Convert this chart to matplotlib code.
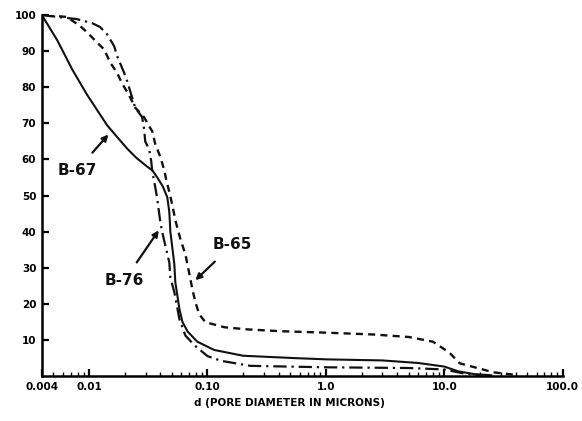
import numpy as np
import matplotlib
matplotlib.use('Agg')
import matplotlib.pyplot as plt

# Cumulative pore volume (%) against pore diameter (microns)
d_b67 = [0.004, 0.0054, 0.0072, 0.0096, 0.0142, 0.0175, 0.021, 0.025, 0.031, 0.0342,
         0.0377, 0.042, 0.0458, 0.0476, 0.0486, 0.0525, 0.0535, 0.058, 0.0614, 0.068,
         0.082, 0.114, 0.2, 0.5, 1.0, 3.0, 6.0, 10.0, 13.0, 18.0, 25.0]
p_b67 = [100, 93, 85, 78, 69.5, 66, 63, 60.5, 58, 57,
         55, 52.5, 49.5, 45.5, 40, 31, 26, 18.5, 15, 12.3,
         9.5, 7.2, 5.6, 5.0, 4.6, 4.3, 3.6, 2.6, 1.3, 0.5, 0.2]

d_b76 = [0.004, 0.0079, 0.0106, 0.0124, 0.0142, 0.0163, 0.0173, 0.0198, 0.021, 0.0245,
         0.0281, 0.0292, 0.0298, 0.0322, 0.0335, 0.0342, 0.0362, 0.0377, 0.040, 0.0415,
         0.044, 0.0476, 0.0486, 0.0525, 0.058, 0.0651, 0.0776, 0.10, 0.13, 0.23,
         1.0, 5.0, 10.0, 14.0, 20.0]
p_b76 = [100, 98.9, 97.8, 96.7, 94.7, 91.4, 88.6, 84, 81.7, 74.4,
         71.7, 68.3, 65, 62.8, 59.5, 56.7, 52.4, 49, 42.6, 39.9,
         36.2, 31.5, 27.3, 23.2, 15.7, 11.2, 8.5, 5.5, 4.2, 2.8,
         2.4, 2.2, 1.8, 0.8, 0.2]

d_b65 = [0.0044, 0.0065, 0.0084, 0.0096, 0.011, 0.0134, 0.0151, 0.0173, 0.019, 0.0218,
         0.0245, 0.0292, 0.0322, 0.0342, 0.0362, 0.040, 0.0432, 0.0449, 0.0476, 0.0505,
         0.0535, 0.059, 0.0651, 0.0704, 0.0746, 0.0791, 0.0855, 0.0962, 0.139, 0.218,
         0.415, 1.0, 2.5, 5.0, 8.0, 11.0, 13.5, 18.0, 26.0, 40.0]
p_b65 = [100, 99.5, 97, 95.3, 93.3, 90.5, 86.9, 83.9, 81.1, 77.8,
         74.4, 71.7, 69.2, 67.8, 64.3, 60.7, 57, 54.3, 51, 47.4,
         43.2, 38, 33.7, 28.2, 24, 20.4, 17, 14.9, 13.5, 12.9,
         12.4, 12.0, 11.5, 10.8, 9.5, 6.5, 3.5, 2.4, 1.0, 0.3]

x_ticks = [0.004, 0.01, 0.1, 1.0, 10.0, 100.0]
x_tick_labels = ['0.004', '0.01', '0.10', '1.0', '10.0', '100.0']
y_ticks = [10, 20, 30, 40, 50, 60, 70, 80, 90, 100]

fig = plt.figure(figsize=(5.82, 4.21), dpi=100)
ax = fig.add_axes([0.072, 0.107, 0.895, 0.857])

ink = '#111111'
ax.plot(d_b67, p_b67, color=ink, lw=1.5, solid_capstyle='round', solid_joinstyle='round')
ax.plot(d_b76, p_b76, color=ink, lw=1.6, linestyle=(0, (6, 2.2, 1, 2.2)))
ax.plot(d_b65, p_b65, color=ink, lw=1.7, linestyle=(0, (3, 2.2)))

ax.set_xscale('log')
ax.set_xlim(0.004, 100)
ax.set_ylim(0, 100)

ax.spines['top'].set_visible(False)
ax.spines['right'].set_visible(False)
ax.spines['left'].set_linewidth(1.8)
ax.spines['bottom'].set_linewidth(1.8)

ax.set_xticks(x_ticks)
ax.set_xticklabels(x_tick_labels, fontsize=7.5, fontweight='bold')
ax.set_yticks(y_ticks)
ax.set_yticklabels([str(v) for v in y_ticks], fontsize=7.5, fontweight='bold')
ax.tick_params(axis='both', which='major', direction='in', length=5, width=1.6, pad=4)
ax.tick_params(axis='x', which='minor', direction='in', length=3, width=1.0)
ax.xaxis.set_minor_formatter(matplotlib.ticker.NullFormatter())

ax.set_xlabel('d (PORE DIAMETER IN MICRONS)', fontsize=7.5, fontweight='bold', labelpad=5)
ax.xaxis.label.set_x(0.475)

# curve labels with pointer arrows
arrow = dict(arrowstyle='-|>', color=ink, lw=1.6, mutation_scale=9)
ax.annotate('B-67', xy=(0.0151, 67.5), xytext=(0.0079, 57), fontsize=11,
            fontweight='bold', ha='center', va='center', color=ink,
            arrowprops=dict(arrow, shrinkA=7))
ax.annotate('B-76', xy=(0.040, 41), xytext=(0.0198, 26.4), fontsize=11,
            fontweight='bold', ha='center', va='center', color=ink,
            arrowprops=dict(arrow, shrinkA=7))
ax.annotate('B-65', xy=(0.076, 26), xytext=(0.163, 36.4), fontsize=11,
            fontweight='bold', ha='center', va='center', color=ink,
            arrowprops=dict(arrow, shrinkA=7))

fig.savefig('out.png', dpi=100, facecolor='white')
